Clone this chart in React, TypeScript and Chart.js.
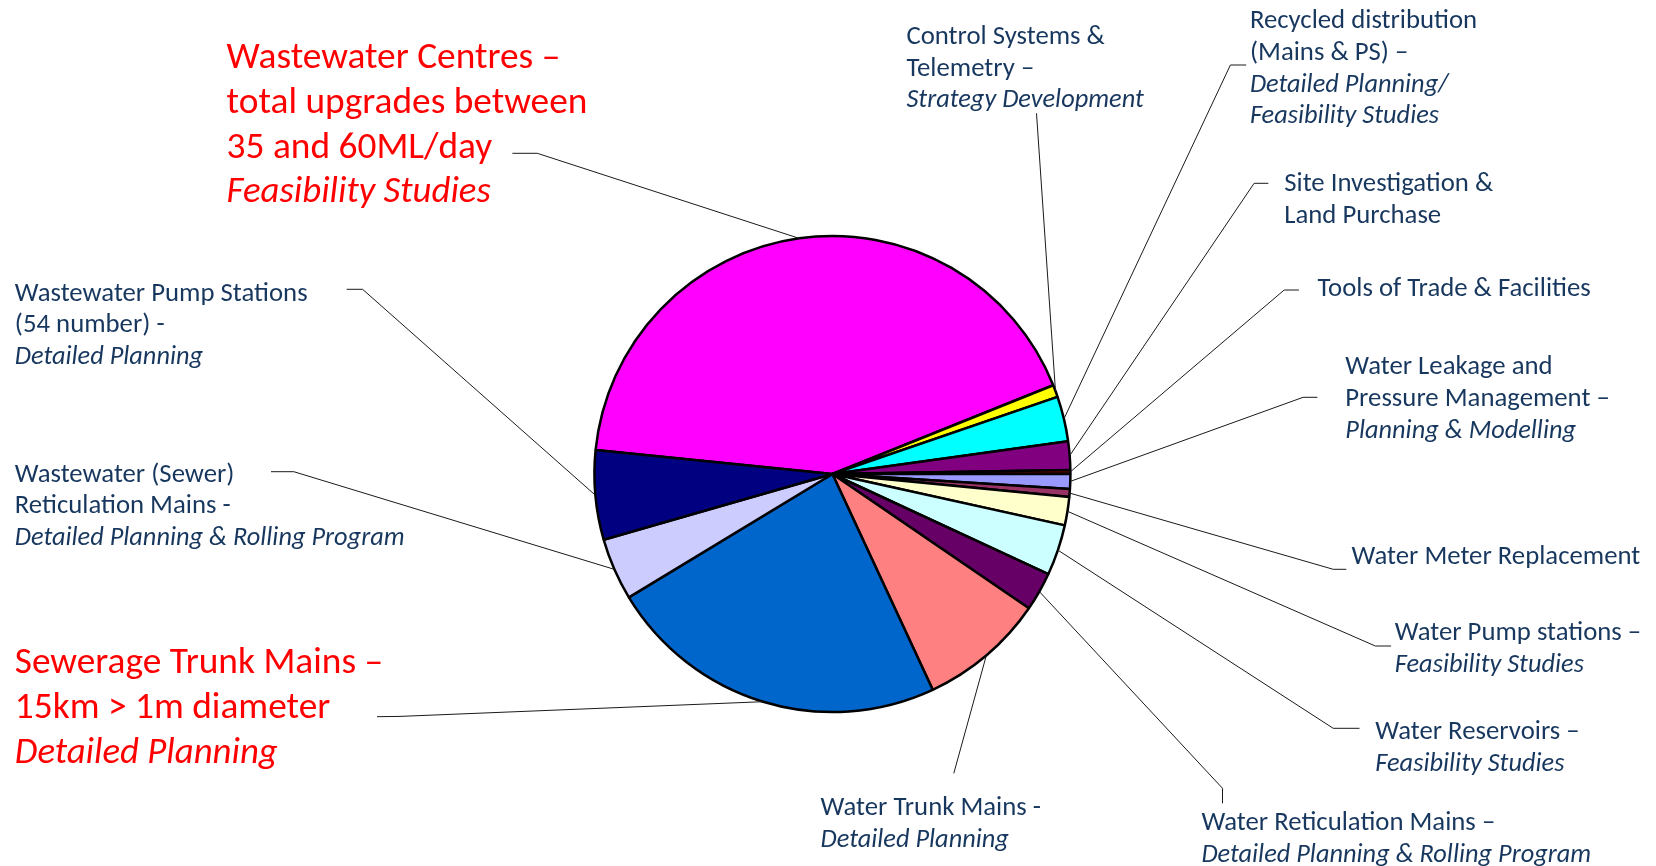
import React, { useEffect, useRef } from "react";
import { Chart, registerables } from "chart.js";

Chart.register(...registerables);

// ---- data ----
const categories = [
  "Wastewater Centres",
  "Control Systems & Telemetry",
  "Recycled distribution (Mains & PS)",
  "Site Investigation & Land Purchase",
  "Tools of Trade & Facilities",
  "Water Leakage and Pressure Management",
  "Water Meter Replacement",
  "Water Pump stations",
  "Water Reservoirs",
  "Water Reticulation Mains",
  "Water Trunk Mains",
  "Sewerage Trunk Mains",
  "Wastewater (Sewer) Reticulation Mains",
  "Wastewater Pump Stations",
];

const shares = [42.3, 0.83, 3.06, 1.92, 0.25, 1.03, 0.53, 1.92, 3.44, 2.64, 8.53, 23.25, 4.22, 6.06];

const sliceColors = [
  "#FF00FF", "#FFFF00", "#00FFFF", "#800080", "#800000", "#9999FF", "#993366",
  "#FFFFCC", "#CCFFFF", "#660066", "#FF8080", "#0066CC", "#CCCCFF", "#000080",
];

// label text lines: [text, italic]
const labelLines: [string, boolean][][] = [
  [["Wastewater Centres –", false], ["total upgrades between", false], ["35 and 60ML/day", false], ["Feasibility Studies", true]],
  [["Control Systems &", false], ["Telemetry –", false], ["Strategy Development", true]],
  [["Recycled distribution", false], ["(Mains & PS) –", false], ["Detailed Planning/", true], ["Feasibility Studies", true]],
  [["Site Investigation &", false], ["Land Purchase", false]],
  [["Tools of Trade & Facilities", false]],
  [["Water Leakage and", false], ["Pressure Management –", false], ["Planning & Modelling", true]],
  [["Water Meter Replacement", false]],
  [["Water Pump stations –", false], ["Feasibility Studies", true]],
  [["Water Reservoirs –", false], ["Feasibility Studies", true]],
  [["Water Reticulation Mains –", false], ["Detailed Planning & Rolling Program", true]],
  [["Water Trunk Mains -", false], ["Detailed Planning", true]],
  [["Sewerage Trunk Mains –", false], ["15km > 1m diameter", false], ["Detailed Planning", true]],
  [["Wastewater (Sewer)", false], ["Reticulation Mains -", false], ["Detailed Planning & Rolling Program", true]],
  [["Wastewater Pump Stations", false], ["(54 number) -", false], ["Detailed Planning", true]],
];

const highlighted = [true, false, false, false, false, false, false, false, false, false, false, true, false, false];

// ---- layout (label positions & leader elbows) ----
type LabelLayout = { x: number; y: number; path: number[][] };
const labelLayout: LabelLayout[] = [
  { x: 226.6, y: 59, path: [[512.4, 153.3], [537.3, 153.3]] },
  { x: 906.4, y: 37.3, path: [[1036.5, 113.3]] },
  { x: 1249.9, y: 21.5, path: [[1246.2, 65], [1230.4, 65]] },
  { x: 1284.2, y: 184.5, path: [[1268.4, 183.3], [1254.1, 183.3]] },
  { x: 1317.4, y: 289, path: [[1298.9, 290], [1284.2, 290]] },
  { x: 1345.3, y: 367.7, path: [[1317.4, 397.3], [1303.1, 397.3]] },
  { x: 1351.6, y: 557.2, path: [[1346.3, 569.3], [1333.2, 569.3]] },
  { x: 1394.8, y: 633.5, path: [[1391.1, 646], [1375.3, 646]] },
  { x: 1375.3, y: 732.5, path: [[1359.5, 728.3], [1333.2, 728.3]] },
  { x: 1201.4, y: 823.5, path: [[1222.5, 803.3], [1222.5, 788.3]] },
  { x: 820.6, y: 808.5, path: [[953.8, 773.3]] },
  { x: 14.8, y: 664, path: [[377, 716.7], [400, 716.4]] },
  { x: 14.8, y: 475, path: [[271, 471.7], [293.8, 471.7]] },
  { x: 14.8, y: 294, path: [[346.7, 289.3], [362.6, 289.3]] },
];

const FAMILY = "Carlito, Calibri, Lato, sans-serif";
const DARK = "#17375E";
const RED = "#FF0000";

function fitSize(ctx: CanvasRenderingContext2D, text: string, target: number) {
  ctx.font = `100px ${FAMILY}`;
  const w = ctx.measureText(text).width;
  return (100 * target) / w;
}

const labelPlugin = {
  id: "pieLabels",
  afterDraw(chart: any) {
    const ctx: CanvasRenderingContext2D = chart.ctx;
    const meta = chart.getDatasetMeta(0);
    const darkSize = fitSize(ctx, "Wastewater Pump Stations", 293);
    const redSize = fitSize(ctx, "total upgrades between", 361);
    ctx.save();
    // leaders
    ctx.strokeStyle = "#1a1a1a";
    ctx.lineWidth = 1;
    meta.data.forEach((arc: any, i: number) => {
      const p = arc.getProps(["x", "y", "startAngle", "endAngle", "outerRadius"], true);
      const mid = (p.startAngle + p.endAngle) / 2;
      const ex = p.x + Math.cos(mid) * p.outerRadius;
      const ey = p.y + Math.sin(mid) * p.outerRadius;
      const path = labelLayout[i].path;
      ctx.beginPath();
      ctx.moveTo(path[0][0], path[0][1]);
      for (let k = 1; k < path.length; k++) ctx.lineTo(path[k][0], path[k][1]);
      ctx.lineTo(ex, ey);
      ctx.stroke();
    });
    // texts
    ctx.textAlign = "left";
    ctx.textBaseline = "middle";
    labelLines.forEach((lines, i) => {
      const big = highlighted[i];
      const size = big ? redSize : darkSize;
      const lh = big ? 44.7 : 31.7;
      ctx.fillStyle = big ? RED : DARK;
      const { x, y } = labelLayout[i];
      lines.forEach(([t, it], k) => {
        ctx.font = `${it ? "italic " : ""}${size}px ${FAMILY}`;
        if (it) {
          // keep italic lines at similar width to the upright face
          ctx.save();
          ctx.translate(x, y + k * lh);
          ctx.scale(0.985, 1);
          ctx.fillText(t, 0, 0);
          ctx.restore();
        } else {
          ctx.fillText(t, x, y + k * lh);
        }
      });
    });
    ctx.restore();
  },
};

export default function App() {
  const ref = useRef<HTMLCanvasElement>(null);
  useEffect(() => {
    if (!ref.current) return;
    const chart = new Chart(ref.current, {
      type: "pie",
      data: {
        labels: categories,
        datasets: [
          {
            data: shares,
            backgroundColor: sliceColors,
            borderColor: "#000000",
            borderWidth: 2.5,
            radius: 238,
          } as any,
        ],
      },
      options: {
        animation: false,
        responsive: false,
        rotation: 275.8,
        events: [],
        layout: { padding: { left: 532.4, right: 523.6, top: 174, bottom: 92 } },
        plugins: { legend: { display: false }, tooltip: { enabled: false } },
      },
      plugins: [labelPlugin],
    });
    return () => chart.destroy();
  }, []);
  return (
    <div style={{ position: "absolute", left: 0, top: 0, width: 1656, height: 866, background: "#fff" }}>
      <canvas ref={ref} width={1656} height={866} style={{ display: "block" }} />
    </div>
  );
}
